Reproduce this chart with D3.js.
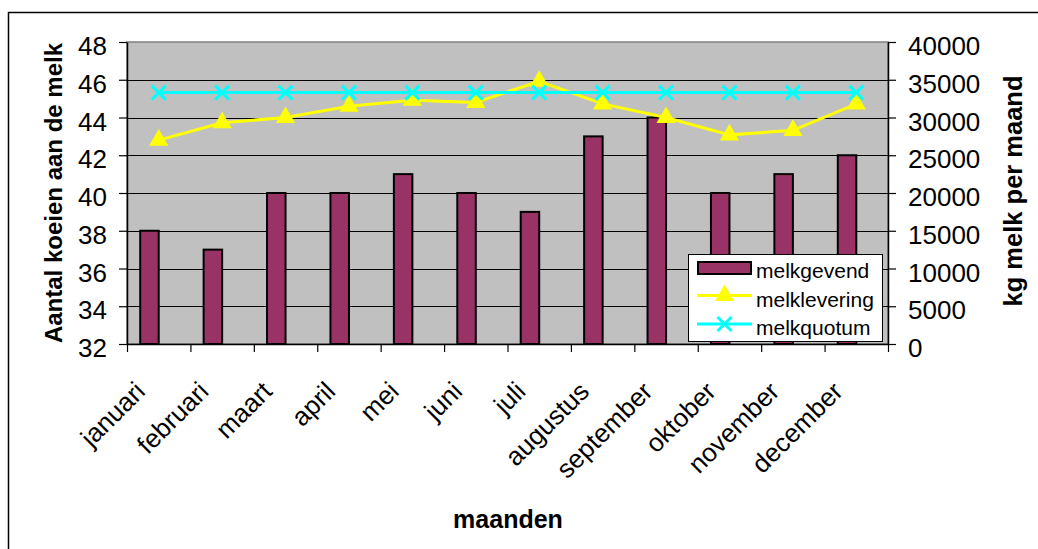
<!DOCTYPE html>
<html><head><meta charset="utf-8">
<script src="https://cdn.jsdelivr.net/npm/d3@7"></script>
<style>body{margin:0;background:#fff}svg{display:block}text{font-family:"Liberation Sans",Arial,sans-serif}</style>
</head><body><svg id="c" width="1038" height="549"></svg>
<script>
const months = ["januari","februari","maart","april","mei","juni","juli","augustus","september","oktober","november","december"];
const melkgevend = [38,37,40,40,41,40,39,43,44,40,41,42];
const melklevering = [27000,29300,30000,31500,32300,32000,34800,31800,30000,27700,28300,31800];
const melkquotum = [33300,33300,33300,33300,33300,33300,33300,33300,33300,33300,33300,33300];
const leftTicks = [32,34,36,38,40,42,44,46,48];
const rightTicks = [0,5000,10000,15000,20000,25000,30000,35000,40000];

const svg = d3.select("#c");
const L=127,R=888,T=42,B=344;
const x = d3.scaleBand().domain(months).range([L,R]).padding(0);
const yL = d3.scaleLinear().domain([32,48]).range([B,T]);
const yR = d3.scaleLinear().domain([0,40000]).range([B,T]);
const cx = m => x(m)+x.bandwidth()/2;

// outer frame
svg.append("rect").attr("x",8.5).attr("y",12.5).attr("width",1100).attr("height",700)
  .attr("fill","#fff").attr("stroke","#000").attr("stroke-width",1.5);

// plot bg
svg.append("rect").attr("x",L).attr("y",T).attr("width",R-L).attr("height",B-T)
  .attr("fill","#c0c0c0").attr("stroke","#808080").attr("stroke-width",1.5);

// gridlines
svg.append("g").selectAll("line").data(leftTicks.slice(1,-1)).join("line")
  .attr("x1",L).attr("x2",R).attr("y1",d=>Math.round(yL(d))+0.5).attr("y2",d=>Math.round(yL(d))+0.5)
  .attr("stroke","#000").attr("stroke-width",1);

// bars
const bw = 18.5;
svg.append("g").selectAll("rect").data(months).join("rect")
  .attr("x",m=>cx(m)-bw).attr("width",bw)
  .attr("y",(m,i)=>yL(melkgevend[i])).attr("height",(m,i)=>B-yL(melkgevend[i]))
  .attr("fill","#993366").attr("stroke","#000").attr("stroke-width",2);

// axes
const axL = d3.axisLeft(yL).tickValues(leftTicks).tickSize(8).tickSizeOuter(0).tickFormat(d3.format("d"));
const gL = svg.append("g").attr("transform",`translate(${L},0)`).call(axL);
const axR = d3.axisRight(yR).tickValues(rightTicks).tickSize(8).tickSizeOuter(0).tickFormat(d3.format("d"));
const gR = svg.append("g").attr("transform",`translate(${R},0)`).call(axR);
const axB = d3.axisBottom(d3.scaleLinear().domain([0,12]).range([L,R])).tickValues(d3.range(0,13)).tickSize(8).tickSizeOuter(0).tickFormat("");
const gB = svg.append("g").attr("transform",`translate(0,${B})`).call(axB);
[gL,gR,gB].forEach(g=>{g.select(".domain").attr("stroke","#000").attr("stroke-width",1.5);
  g.selectAll(".tick line").attr("stroke","#000").attr("stroke-width",1.2);});
gL.selectAll(".tick text").attr("font-size",26).attr("fill","#000").attr("x",-20).attr("dy",null).attr("y",12.5).style("font-family","Liberation Sans, Arial");
gR.selectAll(".tick text").attr("font-size",26).attr("fill","#000").attr("x",20).attr("dy",null).attr("y",12.5).style("font-family","Liberation Sans, Arial");

// x labels
svg.append("g").selectAll("text").data(months).join("text")
  .attr("transform",m=>`translate(${cx(m)-12},393) rotate(-45)`)
  .attr("text-anchor","end").attr("font-size",26).text(m=>m);

// lines
const line = d3.line().x((d,i)=>cx(months[i])).y(d=>yR(d));
svg.append("path").datum(melklevering).attr("d",line).attr("fill","none").attr("stroke","#ffff00").attr("stroke-width",3);
svg.append("path").datum(melkquotum).attr("d",line).attr("fill","none").attr("stroke","#00ffff").attr("stroke-width",3);
const tri = d3.symbol().type(d3.symbolTriangle).size(160);
svg.append("g").selectAll("path").data(melklevering).join("path")
  .attr("transform",(d,i)=>`translate(${cx(months[i])},${yR(d)})`).attr("d",tri()).attr("fill","#ffff00");
const xs = 7;
svg.append("g").selectAll("path").data(melkquotum).join("path")
  .attr("transform",(d,i)=>`translate(${cx(months[i])},${yR(d)})`)
  .attr("d",`M${-xs},${-xs}L${xs},${xs}M${-xs},${xs}L${xs},${-xs}`).attr("stroke","#00ffff").attr("stroke-width",3);

// titles
svg.append("text").attr("transform","translate(62,193) rotate(-90)").attr("text-anchor","middle")
  .attr("font-size",24).attr("font-weight","bold").text("Aantal koeien aan de melk");
svg.append("text").attr("transform","translate(1022,191) rotate(-90)").attr("text-anchor","middle")
  .attr("font-size",25.5).attr("font-weight","bold").text("kg melk per maand");
svg.append("text").attr("x",508).attr("y",528).attr("text-anchor","middle")
  .attr("font-size",25).attr("font-weight","bold").text("maanden");

// legend
const lg = svg.append("g");
lg.append("rect").attr("x",688.5).attr("y",254.5).attr("width",194).attr("height",87).attr("fill","#fff").attr("stroke","#000").attr("stroke-width",1);
lg.append("rect").attr("x",698).attr("y",262).attr("width",53).attr("height",12).attr("fill","#993366").attr("stroke","#000").attr("stroke-width",2);
lg.append("line").attr("x1",697).attr("x2",752).attr("y1",295.5).attr("y2",295.5).attr("stroke","#ffff00").attr("stroke-width",3);
lg.append("path").attr("transform","translate(724.5,295.5)").attr("d",tri()).attr("fill","#ffff00");
lg.append("line").attr("x1",697).attr("x2",752).attr("y1",324).attr("y2",324).attr("stroke","#00ffff").attr("stroke-width",3);
lg.append("path").attr("transform","translate(724.5,324)").attr("d",`M${-xs},${-xs}L${xs},${xs}M${-xs},${xs}L${xs},${-xs}`).attr("stroke","#00ffff").attr("stroke-width",3);
const legNames=["melkgevend","melklevering","melkquotum"];
lg.selectAll("text.l").data(legNames).join("text").attr("class","l")
  .attr("x",756).attr("y",(d,i)=>278+i*28.5).attr("font-size",21).text(d=>d);
</script></body></html>
